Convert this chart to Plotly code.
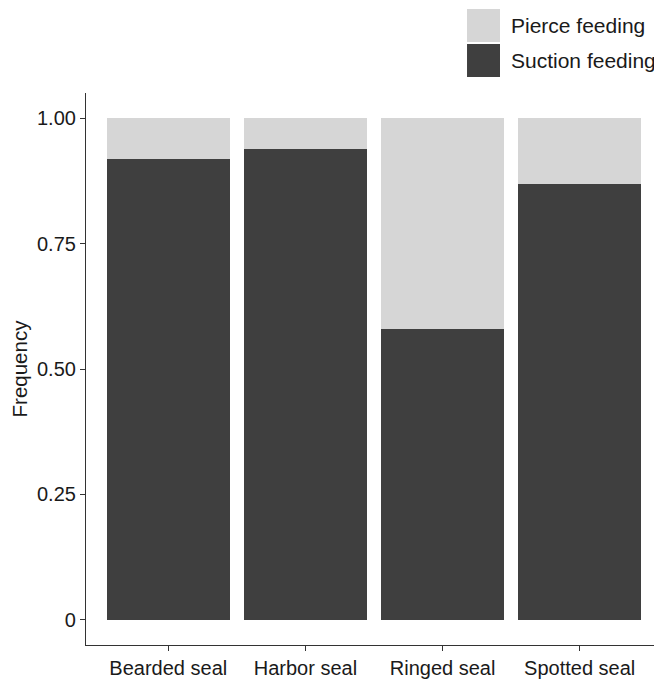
import plotly.graph_objects as go

categories = ["Bearded seal", "Harbor seal", "Ringed seal", "Spotted seal"]
suction = [0.918, 0.938, 0.580, 0.869]
pierce = [round(1 - v, 3) for v in suction]
tick_vals = [0, 0.25, 0.5, 0.75, 1.0]
tick_text = ["0", "0.25", "0.50", "0.75", "1.00"]

DARK = "#3f3f3f"
LIGHT = "#d6d6d6"
FONT = "Liberation Sans, Arial, sans-serif"
TXT = "#1a1a1a"

fig = go.Figure()
fig.add_trace(go.Bar(x=categories, y=suction, name="Suction feeding",
                     marker=dict(color=DARK, line=dict(width=0)), width=0.9))
fig.add_trace(go.Bar(x=categories, y=pierce, name="Pierce feeding",
                     marker=dict(color=LIGHT, line=dict(width=0)), width=0.9))

fig.update_layout(
    barmode="stack",
    width=654, height=673,
    margin=dict(l=78, r=0, t=85, b=36),
    paper_bgcolor="white", plot_bgcolor="white",
    showlegend=False,
    font=dict(family=FONT, size=20, color=TXT),
)
fig.update_xaxes(
    range=[-0.6, 3.6], showline=True, linecolor="#333333", linewidth=1.2,
    ticks="outside", ticklen=5, tickcolor="#333333", tickwidth=1.2,
    showgrid=False, zeroline=False, tickfont=dict(size=20, color=TXT),
)
fig.update_yaxes(
    range=[-0.05, 1.05], showline=True, linecolor="#333333", linewidth=1.2,
    ticks="outside", ticklen=5, tickcolor="#333333", tickwidth=1.2,
    tickvals=tick_vals, ticktext=tick_text,
    showgrid=False, zeroline=False, tickfont=dict(size=20, color=TXT),
    title=dict(text="Frequency", font=dict(size=20.5, color=TXT), standoff=8),
)

# custom legend (squares + text) in paper coords
legend_items = [("Pierce feeding", LIGHT, 1.1522, 1.0924),
                ("Suction feeding", DARK, 1.0888, 1.029)]
for label, col, y1, y0 in legend_items:
    fig.add_shape(type="rect", xref="paper", yref="paper",
                  x0=0.6615, x1=0.71875, y0=y0, y1=y1,
                  fillcolor=col, line=dict(width=0))
    fig.add_annotation(text=label, xref="paper", yref="paper",
                       x=0.734, y=(y0 + y1) / 2, xanchor="left", yanchor="middle",
                       showarrow=False, font=dict(size=21, color=TXT))

fig.write_html("out.html")
